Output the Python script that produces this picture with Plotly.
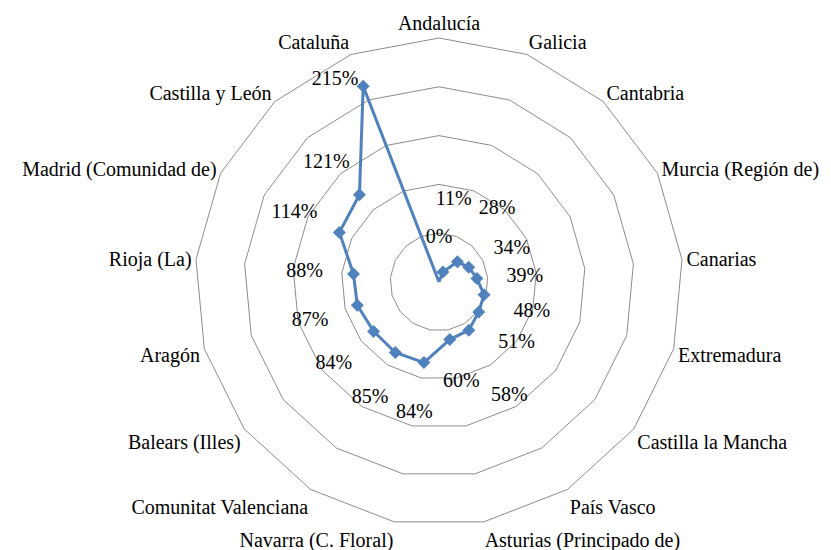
import plotly.graph_objects as go

# Comunidades autónomas, clockwise from the top
regiones = ["Andalucía", "Galicia", "Cantabria", "Murcia (Región de)", "Canarias",
            "Extremadura", "Castilla la Mancha", "País Vasco", "Asturias (Principado de)",
            "Navarra (C. Floral)", "Comunitat Valenciana", "Balears (Illes)", "Aragón",
            "Rioja (La)", "Madrid (Comunidad de)", "Castilla y León", "Cataluña"]
valores = [0, 11, 28, 34, 39, 48, 51, 58, 60, 84, 85, 84, 87, 88, 114, 121, 215]

# where the % labels sit relative to each point (radial units / degrees)
label_dr = [45, 74, 68, 48, 49, 52, 50, 79, 45, 53, 53, 53, 51, 50, 50, 47, 18]
label_dtheta = [0, -11, -4, 2, 2, 2, 1, 0, -2, 0, -1, -1, -1, -1, -1, -1, -6]

azul = "#4F81BD"
gris = "#8C8C8C"
fuente = "Liberation Serif"
# page body has an 8px margin, so the plot is centred 8px up/left
dominio_x = [187 / 831, 675 / 831]
dominio_y = [32 / 550, 520 / 550]

n = len(regiones)
paso = 360 / n

fig = go.Figure()

# main series, closed back onto the first region
fig.add_trace(go.Scatterpolar(
    r=valores + valores[:1],
    theta=regiones + regiones[:1],
    mode="lines+markers",
    line=dict(color=azul, width=3),
    marker=dict(symbol="diamond", size=10, color=azul),
    subplot="polar",
    showlegend=False,
))

# data labels on an overlaid linear polar so they can be nudged
fig.add_trace(go.Scatterpolar(
    r=[v + d for v, d in zip(valores, label_dr)],
    theta=[i * paso + t for i, t in enumerate(label_dtheta)],
    mode="text",
    text=[f"{v}%" for v in valores],
    textfont=dict(family=fuente, size=20, color="black"),
    subplot="polar2",
    showlegend=False,
))

fig.update_layout(
    width=831, height=550,
    margin=dict(l=0, r=0, t=0, b=0),
    paper_bgcolor="white",
    polar=dict(
        domain=dict(x=dominio_x, y=dominio_y),
        bgcolor="white",
        gridshape="linear",
        angularaxis=dict(
            type="category", categoryarray=regiones,
            rotation=90, direction="clockwise",
            showgrid=False, showline=True, linecolor=gris, linewidth=1,
            ticks="", tickfont=dict(family=fuente, size=20, color="black"),
        ),
        radialaxis=dict(
            range=[0, 250], dtick=50, showline=False, showticklabels=False,
            ticks="", gridcolor=gris, gridwidth=1,
        ),
    ),
    polar2=dict(
        domain=dict(x=dominio_x, y=dominio_y),
        bgcolor="rgba(0,0,0,0)",
        angularaxis=dict(type="linear", thetaunit="degrees", rotation=90,
                         direction="clockwise", visible=False),
        radialaxis=dict(range=[0, 250], visible=False),
    ),
)

fig.write_html("out.html")
